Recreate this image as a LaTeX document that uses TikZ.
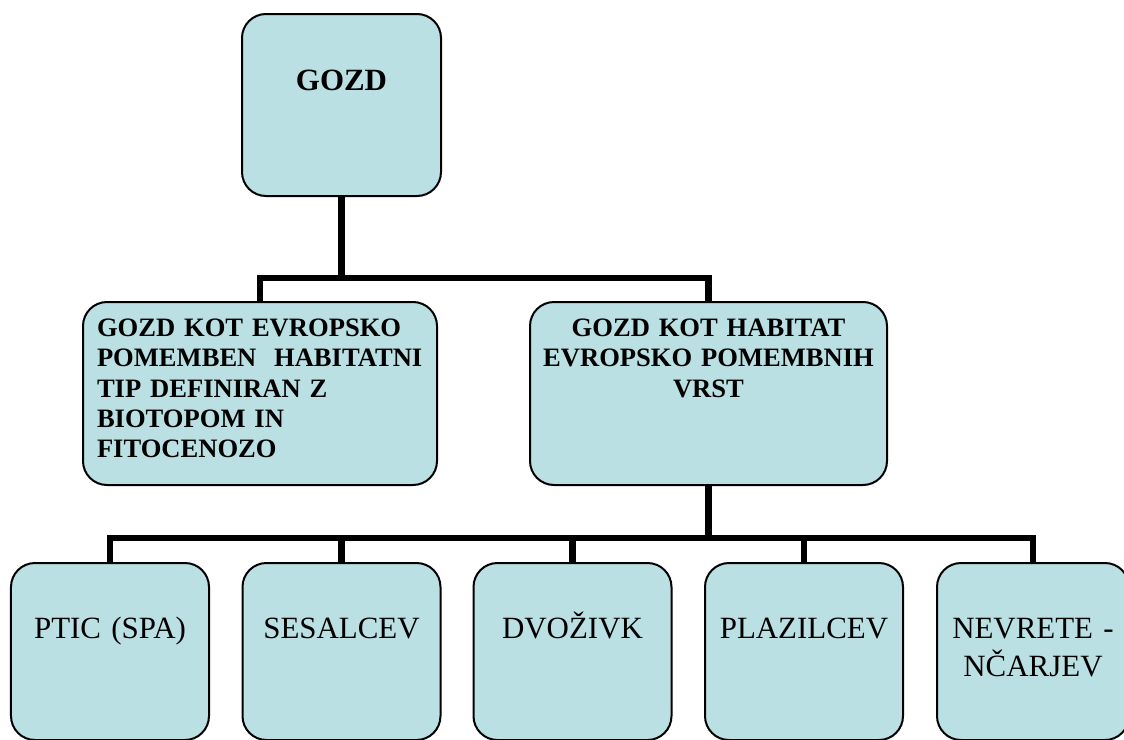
\documentclass[tikz,border=0pt]{standalone}
\usepackage{fontspec}
\setmainfont{Liberation Serif}
\definecolor{boxblue}{HTML}{BBE0E3}

\begin{document}
\begin{tikzpicture}[
    box/.style={draw, fill=boxblue, rounded corners=0.6cm, line width=0.05cm, inner ysep=0pt},
    topbox/.style={box, minimum width=4.975cm, text height=1.9125cm, text depth=2.6375cm, font=\fontsize{22}{26}\selectfont\bfseries},
    midbox/.style={box, text height=0.8625cm, text depth=3.7125cm, font=\fontsize{18.9}{21.6}\selectfont\bfseries},
    lowbox/.style={box, text width=4.6cm, inner xsep=0.175cm, text height=1.875cm, text depth=2.55cm, align=center, font=\fontsize{22}{27.7}\selectfont},
    link/.style={line width=0.16cm}]
    \useasboundingbox (0,0) rectangle (28.1,-18.5);
    \node[topbox] (gozd) at (8.5375,-2.625) {GOZD};
    \node[midbox, text width=8.15cm, inner xsep=0.35cm, align=left] (habtip) at (6.5,-9.8375) {GOZD KOT EVROPSKO\\POMEMBEN~ HABITATNI\\TIP DEFINIRAN Z\\BIOTOPOM IN\\FITOCENOZO};
    \node[midbox, text width=8.6cm, inner xsep=0.1625cm, align=center] (habvrst) at (17.7125,-9.8375) {GOZD KOT HABITAT\\EVROPSKO POMEMBNIH\\VRST};
    \node[lowbox] (ptic) at (2.75,-16.2875) {PTIC (SPA)};
    \node[lowbox] (sesalci) at (8.5375,-16.2875) {SESALCEV};
    \node[lowbox] (dvozivke) at (14.3125,-16.2875) {DVOŽIVK};
    \node[lowbox] (plazilci) at (20.1,-16.2875) {PLAZILCEV};
    \node[lowbox, text width=4.45cm] (nevretencarji) at (25.825,-16.2875) {NEVRETE -\\NČARJEV};
    \coordinate (split1) at (gozd.south |- 0,-6.95);
    \coordinate (split2) at (habvrst.south |- 0,-13.45);
    \draw[link] (gozd) -- (split1);
    \draw[link] (habtip.north) |- (split1) -| (habvrst.north);
    \draw[link] (habvrst) -- (split2);
    \draw[link] (ptic.north) |- (split2) -| (nevretencarji.north);
    \draw[link] (split2) -| (sesalci.north);
    \draw[link] (split2) -| (dvozivke.north);
    \draw[link] (split2) -| (plazilci.north);
\end{tikzpicture}
\end{document}
